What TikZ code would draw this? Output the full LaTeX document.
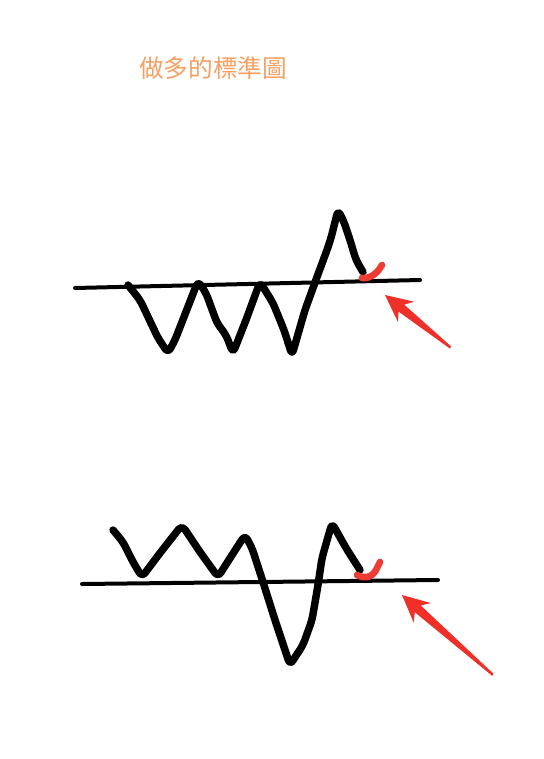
\documentclass[tikz,border=0pt]{standalone}
\usepackage{fontspec}
\newfontfamily\cjk{Noto Sans CJK TC}
\definecolor{titleorange}{HTML}{F7A062}
\definecolor{markred}{HTML}{EE3B33}
\definecolor{arrowred}{HTML}{EE3028}
\tikzset{
  baseline/.style={line width=3pt, line cap=round, black},
  wave/.style={line width=5.6pt, line cap=round, line join=round, black},
  hook/.style={line width=5pt, line cap=round, line join=round, markred},
  redarrow/.style={fill=arrowred, draw=none}
}
\newcommand{\myarrow}[1]{%
  \fill[redarrow] (0,0) -- (-27,-13) -- (-21,-4.5) -- (-#1,-1.2) -- (-#1,1.2) -- (-21,4.5) -- (-27,13) -- cycle;}
\begin{document}
\begin{tikzpicture}[x=0.75pt,y=-0.75pt]
\useasboundingbox (0,0) rectangle (543,759);
\fill[white] (0,0) rectangle (543,759);
\node[font=\cjk\fontsize{18.5}{20}\selectfont, text=titleorange, inner sep=0] (title) at (213,68) {做多的標準圖};

% top chart
\coordinate (ta) at (75,288);
\coordinate (tb) at (420,280);
\draw[baseline] (ta) -- (tb);
\draw[wave, rounded corners=4pt] (128,285) -- (140,300) -- (158,338) -- (168,353) -- (175,340) -- (198,281) -- (206,293) -- (217,323) -- (226,335) -- (233,353) -- (246,320) -- (260,282) -- (273,303) -- (284,330) -- (292,355) -- (305,310) -- (317,277) -- (327,250) -- (331,238) -- (338,210) -- (344,222) -- (350,240) -- (356,260) -- (363,272);
\draw[hook] (362,278) .. controls (367,279) and (376,276) .. (382,265);
\begin{scope}[shift={(385,295)}, rotate=141.3]
\myarrow{84}
\end{scope}

% bottom chart
\coordinate (ba) at (82,584);
\coordinate (bb) at (438,580);
\draw[baseline] (ba) -- (bb);
\draw[wave, rounded corners=4pt] (113,530) -- (123,542) -- (133,562) -- (142,577) -- (160,553) -- (182,525) -- (200,552) -- (218,577) -- (232,555) -- (245,535) -- (252,548) -- (263,582) -- (275,620) -- (290,665) -- (303,645) -- (312,620) -- (318,585) -- (322,558) -- (332,523) -- (346,548) -- (360,570);
\draw[hook] (357,575) .. controls (363,579) and (372,578) .. (376,570) -- (380,562);
\begin{scope}[shift={(402,595)}, rotate=138.7]
\myarrow{121}
\end{scope}
\end{tikzpicture}
\end{document}
